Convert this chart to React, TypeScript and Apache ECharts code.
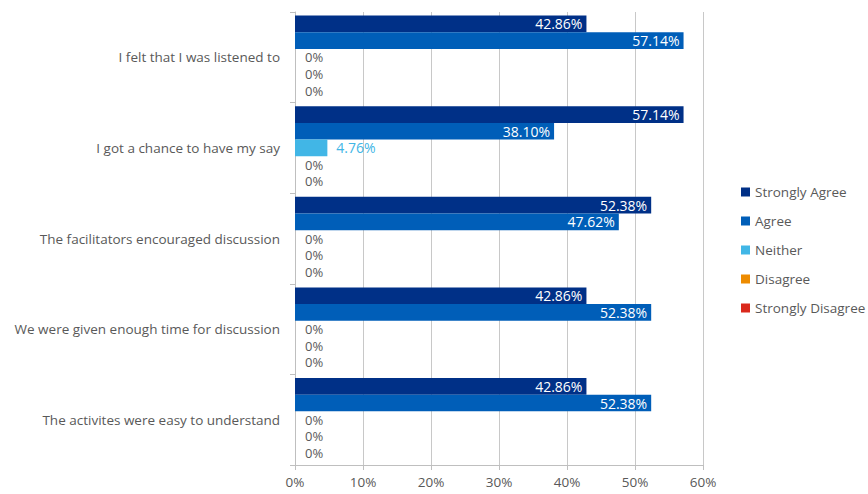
import React, { useEffect, useRef } from "react";
import * as echarts from "echarts";

const categories = [
  "I felt that I was listened to",
  "I got a chance to have my say",
  "The facilitators encouraged discussion",
  "We were given enough time for discussion",
  "The activites were easy to understand",
];
const seriesNames = ["Strongly Agree", "Agree", "Neither", "Disagree", "Strongly Disagree"];
const seriesColors = ["#003087", "#005EB8", "#41B6E6", "#ED8B00", "#DA291C"];
const stronglyAgree = [42.86, 57.14, 52.38, 42.86, 42.86];
const agree = [57.14, 38.1, 47.62, 52.38, 52.38];
const neither = [0, 4.76, 0, 0, 0];
const disagree = [0, 0, 0, 0, 0];
const stronglyDisagree = [0, 0, 0, 0, 0];
const xTicks = [0, 10, 20, 30, 40, 50, 60];

const FONT = "'Open Sans', 'DejaVu Sans', sans-serif";
const TEXT = "#595959";

export default function App() {
  const ref = useRef<HTMLDivElement>(null);
  useEffect(() => {
    document.body.style.margin = "0";
    const chart = echarts.init(ref.current!, null, { renderer: "svg" });
    const all = [stronglyAgree, agree, neither, disagree, stronglyDisagree];
    const fmt = (v: number) => (v === 0 ? "0%" : v.toFixed(2) + "%");
    const series = all.map((vals, si) => ({
      name: seriesNames[si],
      type: "bar",
      barGap: "0%",
      barCategoryGap: "8%",
      itemStyle: { color: seriesColors[si] },
      data: vals.map((v) => {
        let label: any;
        if (v >= 10) {
          label = { show: true, position: "insideRight", color: "#fff", distance: 4, fontSize: 14, lineHeight: 14 };
        } else if (v === 0) {
          label = { show: true, position: "right", color: TEXT, distance: 10, fontSize: 13, lineHeight: 13 };
        } else {
          label = { show: true, position: "right", color: seriesColors[si], distance: 9, fontSize: 14, lineHeight: 14 };
        }
        return {
          value: v,
          label: {
            ...label,
            fontFamily: FONT,
            formatter: (p: any) => fmt(p.value),
          },
        };
      }),
    }));
    chart.setOption({
      animation: false,
      textStyle: { fontFamily: FONT, color: TEXT },
      grid: { left: 295, right: 165, top: 12, bottom: 29, containLabel: false },
      legend: {
        orient: "vertical",
        left: 736,
        top: 180,
        itemWidth: 9,
        itemHeight: 9,
        itemGap: 15,
        icon: "rect",
        data: seriesNames,
        textStyle: { fontFamily: FONT, fontSize: 13.5, color: TEXT, padding: [0, 0, 0, 0] },
      },
      xAxis: {
        type: "value",
        min: xTicks[0],
        max: xTicks[xTicks.length - 1],
        interval: 10,
        axisLine: { show: true, lineStyle: { color: "#BFBFBF" } },
        axisTick: { show: true, length: 5, lineStyle: { color: "#BFBFBF" } },
        splitLine: { show: true, lineStyle: { color: "#C8C8C8" } },
        axisLabel: { fontFamily: FONT, fontSize: 13.5, color: TEXT, margin: 10, formatter: "{value}%" },
      },
      yAxis: {
        type: "category",
        inverse: true,
        data: categories,
        axisLine: { show: true, lineStyle: { color: "#BFBFBF" } },
        axisTick: { show: true, length: 5, lineStyle: { color: "#BFBFBF" } },
        axisLabel: { fontFamily: FONT, fontSize: 13.5, color: TEXT, margin: 15 },
      },
      series,
    });
    return () => chart.dispose();
  }, []);
  return <div ref={ref} style={{ width: 868, height: 494 }} />;
}
